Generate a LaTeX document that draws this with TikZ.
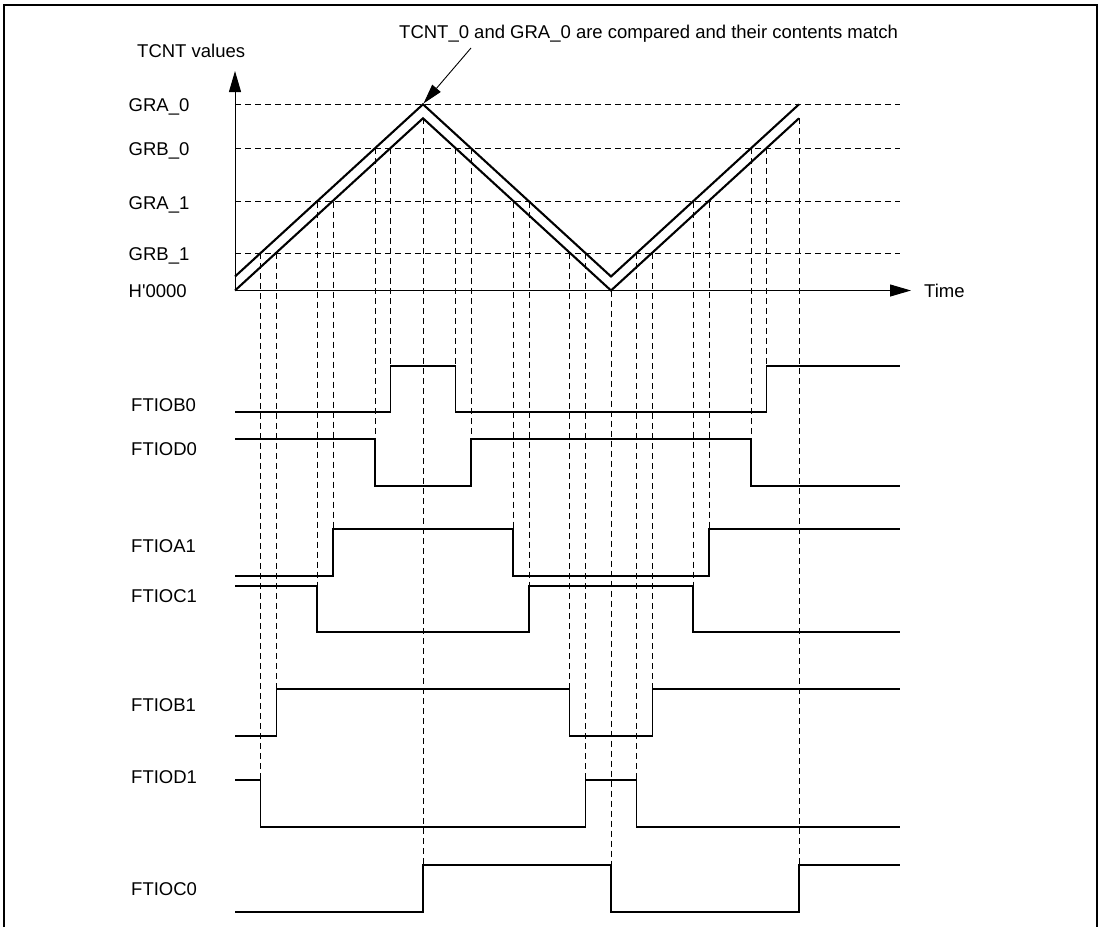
\documentclass[tikz,border=0pt]{standalone}
\usepackage{fontspec}
\newfontfamily\labfont{Liberation Sans}
\usetikzlibrary{arrows.meta}

\begin{document}
\begin{tikzpicture}[
  x=1pt, y=-1pt,
  lab/.style={font=\labfont\fontsize{18.5}{22}\selectfont, inner sep=0pt},
  guide/.style={line width=0.9pt, dash pattern=on 6pt off 4pt},
  wave/.style={line width=2.1pt, line join=miter},
  sig/.style={line width=1.9pt, line join=miter},
  axis/.style={line width=1pt, -{Triangle[length=21pt, width=12pt]}},
]
  \useasboundingbox (0,0) rectangle (1101,927);
  \draw[line width=2.6pt] (4,927) -- (4,5) -- (1097,5) -- (1097,927);

  % levels and axes
  \coordinate (org) at (235,290.5);
  \coordinate (ytip) at (235,71);
  \coordinate (xtip) at (911,290.5);
  \foreach \y/\name in {104.3/GRA\_0, 148/GRB\_0, 201.7/GRA\_1, 253.3/GRB\_1}{
    \draw[guide] (235,\y) -- (900,\y);
    \node[lab, anchor=base west] at (128.5,\y+7.4) {\name};
  }
  \node[lab, anchor=base west] (zero) at (128.5,297) {H'0000};
  \draw[axis] (org) -- (ytip);
  \draw[axis] (org) -- (xtip);
  \node[lab, anchor=base west] (yname) at (137,57) {TCNT values};
  \node[lab, anchor=base west] (xname) at (924,297) {Time};

  % counters
  \draw[wave] (235,276.5) -- (423,104.3) -- (611,276.5) -- (799,104.3);
  \draw[wave] (org) -- (423,118.3) -- (611,290.5) -- (799,118.3);

  % compare match note
  \node[lab, anchor=base west] (note) at (399,38.3) {TCNT\_0 and GRA\_0 are compared and their contents match};
  \coordinate (notetail) at (471,48);
  \coordinate (peak) at (423.5,103.5);
  \draw[line width=0.9pt, -{Triangle[length=20pt, width=11pt]}] (notetail) -- (peak);

  % guide lines down to the edges
  \foreach \x/\top/\bot in {260.5/253.3/780.3, 276.5/253.3/689.3, 317/201.7/585.7,
      333/201.7/529, 375/148/439, 390.5/148/365.7, 423/118.3/865.3,
      455.5/148/365.7, 471/148/439, 513/201.7/529, 529/201.7/585.7,
      569.5/253.3/689.3, 585.5/253.3/780.3, 611/290.5/865.3, 636.5/253.3/780.3,
      652.5/253.3/689.3, 693/201.7/585.7, 709/201.7/529, 751/148/439,
      766.5/148/365.7, 799/118.3/865.3}
    \draw[guide] (\x,\top) -- (\x,\bot);

  % outputs
  \node[lab, anchor=base west] (b0) at (131,411.5) {FTIOB0};
  \node[lab, anchor=base west] (d0) at (131,455)   {FTIOD0};
  \node[lab, anchor=base west] (a1) at (131,552.5) {FTIOA1};
  \node[lab, anchor=base west] (c1) at (131,602.2) {FTIOC1};
  \node[lab, anchor=base west] (b1) at (131,711.5) {FTIOB1};
  \node[lab, anchor=base west] (d1) at (131,783.8) {FTIOD1};
  \node[lab, anchor=base west] (c0) at (131,895.8) {FTIOC0};

  \draw[sig] (235,412.3) -| (390.5,365.7) -| (455.5,412.3) -| (766.5,365.7) -- (900,365.7);
  \draw[sig] (235,439) -| (375,485.7) -| (471,439) -| (751,485.7) -- (900,485.7);
  \draw[sig] (235,575.7) -| (333,529) -| (513,575.7) -| (709,529) -- (900,529);
  \draw[sig] (235,585.7) -| (317,632) -| (529,585.7) -| (693,632) -- (900,632);
  \draw[sig] (235,736) -| (276.5,689.3) -| (569.5,736) -| (652.5,689.3) -- (900,689.3);
  \draw[sig] (235,780.3) -| (260.5,826.7) -| (585.5,780.3) -| (636.5,826.7) -- (900,826.7);
  \draw[sig] (235,912) -| (423,865.3) -| (611,912) -| (799,865.3) -- (900,865.3);
\end{tikzpicture}
\end{document}
